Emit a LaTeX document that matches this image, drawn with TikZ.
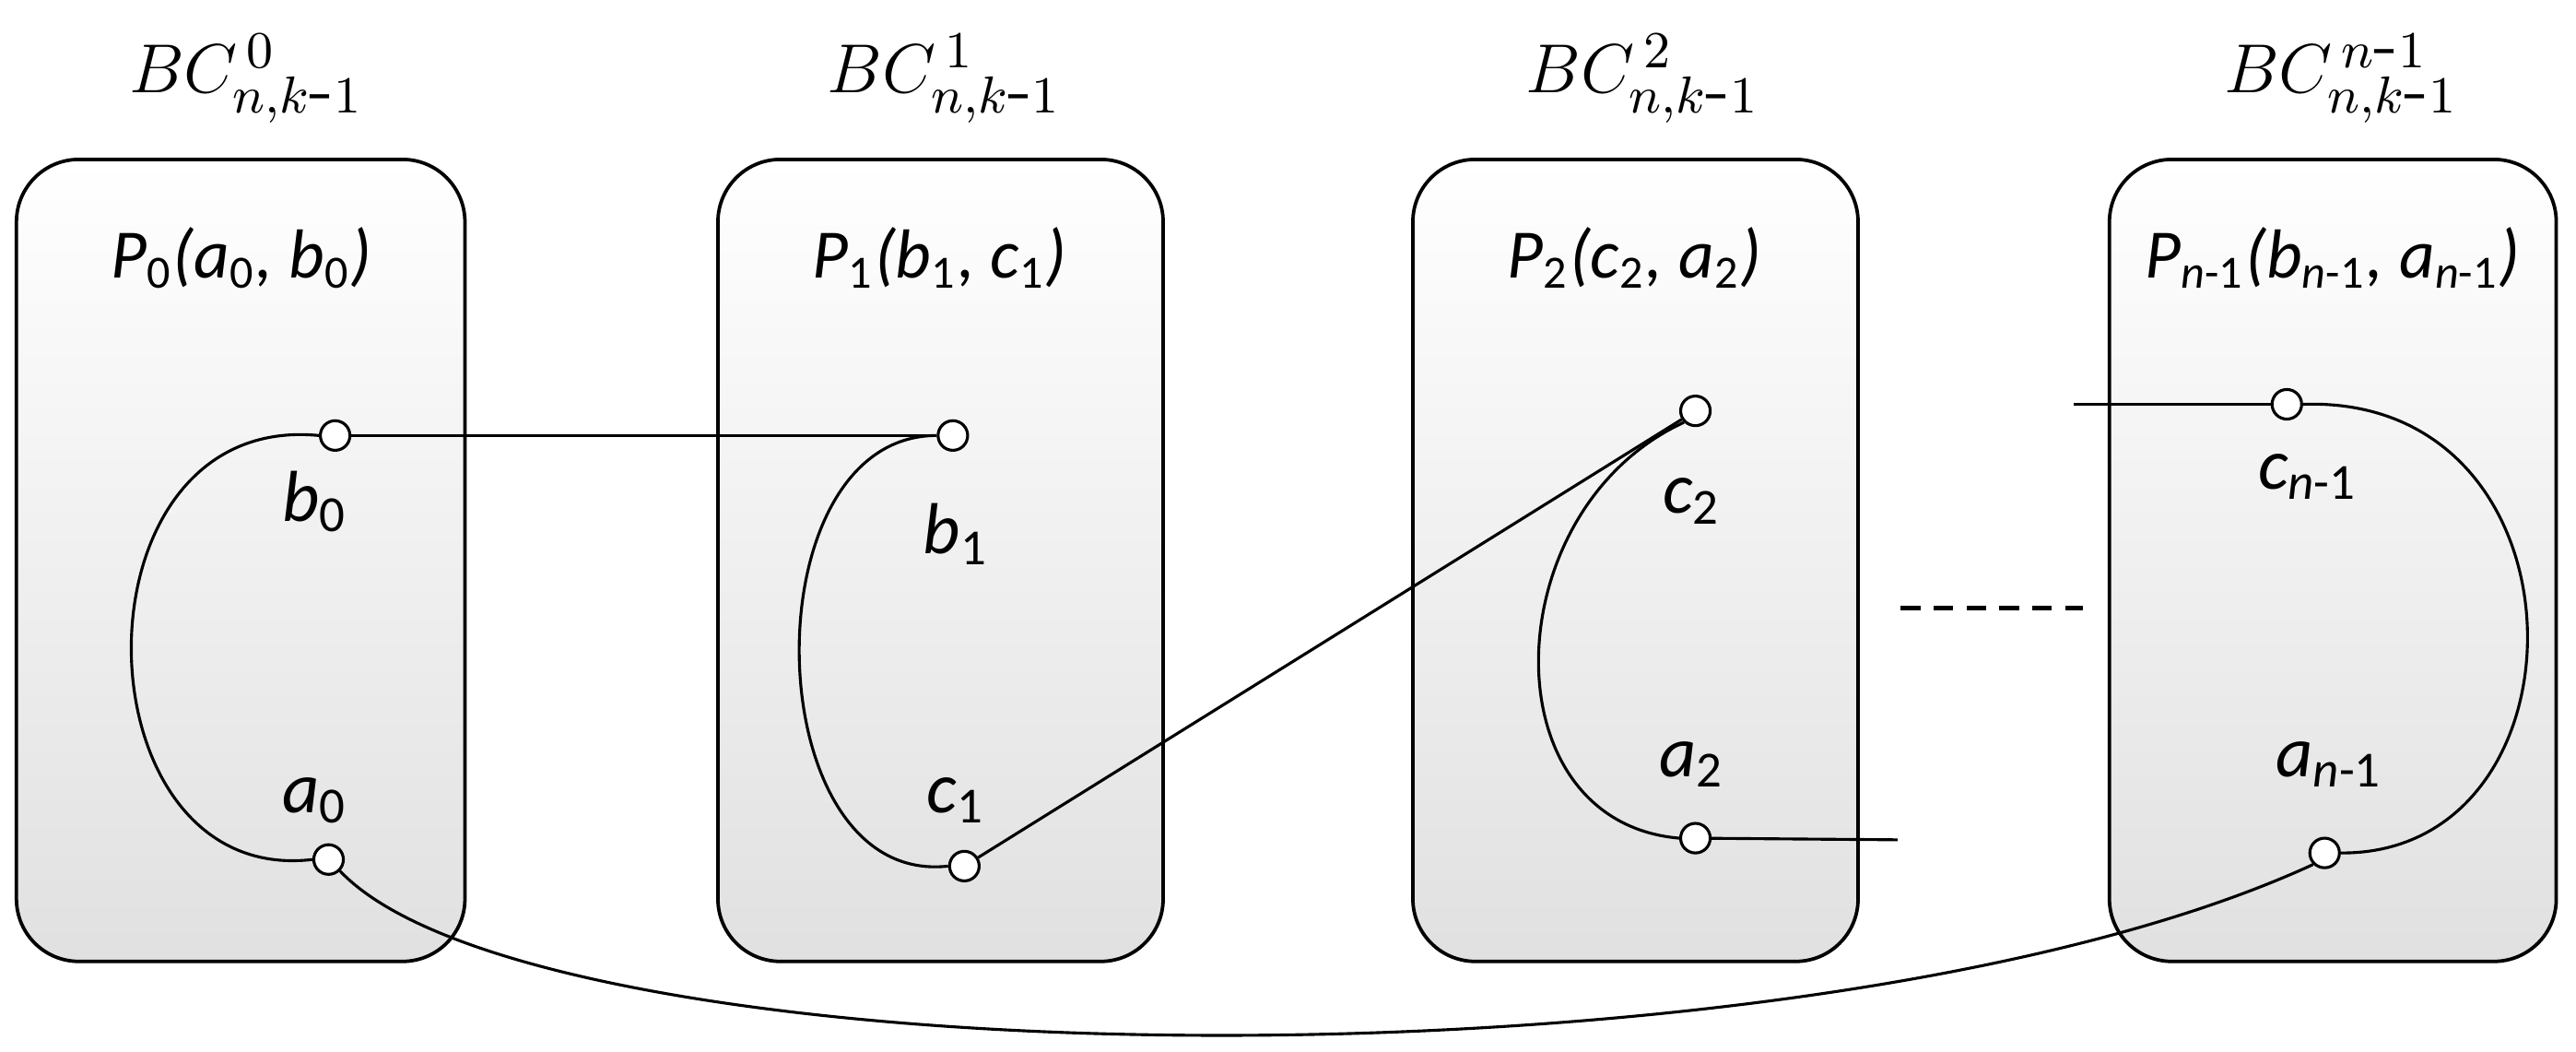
\documentclass[tikz,border=0pt]{standalone}
\usepackage{fontspec}
\setsansfont{Carlito}
\begin{document}
\begin{tikzpicture}[x=0.01cm,y=-0.01cm,
  blk/.style={draw,line width=0.6pt,rounded corners=0.38cm,top color=white,bottom color=black!12},
  port/.style={circle,draw,line width=0.5pt,fill=white,inner sep=0pt,minimum size=0.18cm},
  lab/.style={font=\sffamily\itshape\fontsize{12.5}{13}\selectfont},
  ttl/.style={font=\sffamily\itshape\fontsize{12}{13}\selectfont},
  bc/.style={font=\fontsize{13}{13}\selectfont},
  wire/.style={line width=0.5pt}]
\useasboundingbox (0,0) rectangle (1568,640);
\draw[blk] (10,97) rectangle (283,585);
\draw[blk] (437,97) rectangle (708,585);
\draw[blk] (860,97) rectangle (1131,585);
\draw[blk] (1284,97) rectangle (1556,585);
\node[bc] (h0) at (150,48) {$BC^{\,0}_{n,k\mbox{-}1}$};
\node[bc] (h1) at (575,48) {$BC^{\,1}_{n,k\mbox{-}1}$};
\node[bc] (h2) at (1000,48) {$BC^{\,2}_{n,k\mbox{-}1}$};
\node[bc] (h3) at (1425,48) {$BC^{\,n\mbox{-}1}_{n,k\mbox{-}1}$};
\node[ttl] (t0) at (147,157) {P\textsubscript{\upshape 0}(a\textsubscript{\upshape 0}, b\textsubscript{\upshape 0})};
\node[ttl] (t1) at (572,157) {P\textsubscript{\upshape 1}(b\textsubscript{\upshape 1}, c\textsubscript{\upshape 1})};
\node[ttl] (t2) at (995,157) {P\textsubscript{\upshape 2}(c\textsubscript{\upshape 2}, a\textsubscript{\upshape 2})};
\node[ttl] (t3) at (1420,157) {P\textsubscript{n\upshape -1}(b\textsubscript{n\upshape -1}, a\textsubscript{n\upshape -1})};
\node[port] (b0) at (204,265) {};
\node[port] (a0) at (200,523) {};
\node[port] (b1) at (580,265) {};
\node[port] (c1) at (587,527) {};
\node[port] (c2) at (1032,250) {};
\node[port] (a2) at (1032,510) {};
\node[port] (cn) at (1392,246) {};
\node[port] (an) at (1415,519) {};
\coordinate (e1) at (1155,511);
\coordinate (e2) at (1262,246);
\node[lab] (lb0) at (192,305) {b\textsubscript{\upshape 0}};
\node[lab] (la0) at (192,487) {a\textsubscript{\upshape 0}};
\node[lab] (lb1) at (582,325) {b\textsubscript{\upshape 1}};
\node[lab] (lc1) at (582,487) {c\textsubscript{\upshape 1}};
\node[lab] (lc2) at (1030,305) {c\textsubscript{\upshape 2}};
\node[lab] (la2) at (1030,465) {a\textsubscript{\upshape 2}};
\node[lab] (lcn) at (1405,290) {c\textsubscript{n\upshape -1}};
\node[lab] (lan) at (1418,465) {a\textsubscript{n\upshape -1}};
\draw[wire] (b0.west) .. controls (40,250) and (45,540) .. (a0.west);
\draw[wire] (b1.west) .. controls (455,265) and (460,540) .. (c1.west);
\draw[wire] (c2.south west) .. controls (910,310) and (905,500) .. (a2.west);
\draw[wire] (cn.east) .. controls (1580,240) and (1580,520) .. (an.east);
\draw[wire] (b0) -- (b1);
\draw[wire] (c1) -- (c2);
\draw[wire] (a2) -- (e1);
\draw[wire] (e2) -- (cn);
\draw[wire] (a0.south east) .. controls (330,660) and (1100,668) .. (an.south west);
\draw[line width=0.7pt,dash pattern=on 0.12cm off 0.08cm] (1157,370) coordinate (d1) -- (1268,370) coordinate (d2);
\end{tikzpicture}
\end{document}
